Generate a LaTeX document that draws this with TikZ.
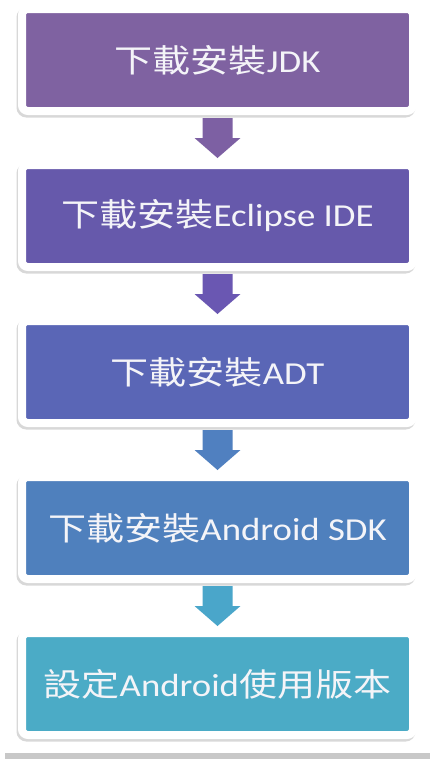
\documentclass[tikz,border=0pt]{standalone}
\usepackage{fontspec}
\setmainfont{Carlito}[FakeStretch=1.15]
\newfontfamily\cjk{Noto Sans CJK TC}[FakeStretch=1.19]
\usetikzlibrary{calc,shadows}
\definecolor{cA}{HTML}{7F62A1}
\definecolor{cB}{HTML}{6659AB}
\definecolor{cC}{HTML}{5A66B6}
\definecolor{cD}{HTML}{4F80BD}
\definecolor{cE}{HTML}{4BABC6}
\definecolor{aA}{HTML}{7D60A3}
\definecolor{aB}{HTML}{6A57B2}
\definecolor{aC}{HTML}{5080C0}
\definecolor{aD}{HTML}{4AA6CA}
\definecolor{txt}{HTML}{F4F4F8}
\definecolor{cLine}{HTML}{C8C8C8}
\tikzset{
  stepbox/.style={draw=white, line width=8pt, rounded corners=6pt,
    minimum width=391pt, minimum height=102pt, inner sep=0pt,
    text=txt, font=\fontsize{32}{36}\selectfont,
    drop shadow={opacity=0.3, fill=black!50, draw=black!50, line width=8pt,
      shadow xshift=-1.5pt, shadow yshift=-2.5pt}},
}
\newcommand\flowarrow[3]{%
  \fill[#3] ($(#1.south)+(-15,3)$) -- ($(#1.south)+(15,3)$) -- ($(#1.south)+(15,23)$)
    -- ($(#1.south)+(23,23)$) -- ($(#2.north)+(0,-3)$) -- ($(#1.south)+(-23,23)$)
    -- ($(#1.south)+(-15,23)$) -- cycle;}
\begin{document}
\begin{tikzpicture}[x=1pt,y=-1pt]
\useasboundingbox (0,0) rectangle (434,764);
\fill[white] (0,0) rectangle (434,764);
\node[stepbox, fill=cA] (b1) at (217.5,60) {{\cjk 下載安裝}JDK};
\node[stepbox, fill=cB] (b2) at (217.5,216) {{\cjk 下載安裝}Eclipse IDE};
\node[stepbox, fill=cC] (b3) at (217.5,372) {{\cjk 下載安裝}ADT};
\node[stepbox, fill=cD] (b4) at (217.5,528) {{\cjk 下載安裝}Android SDK};
\node[stepbox, fill=cE] (b5) at (217.5,684) {{\cjk 設定}Android{\cjk 使用版本}};
\flowarrow{b1}{b2}{aA}
\flowarrow{b2}{b3}{aB}
\flowarrow{b3}{b4}{aC}
\flowarrow{b4}{b5}{aD}
\fill[cLine] (5,753) rectangle (430,759);
\end{tikzpicture}
\end{document}
